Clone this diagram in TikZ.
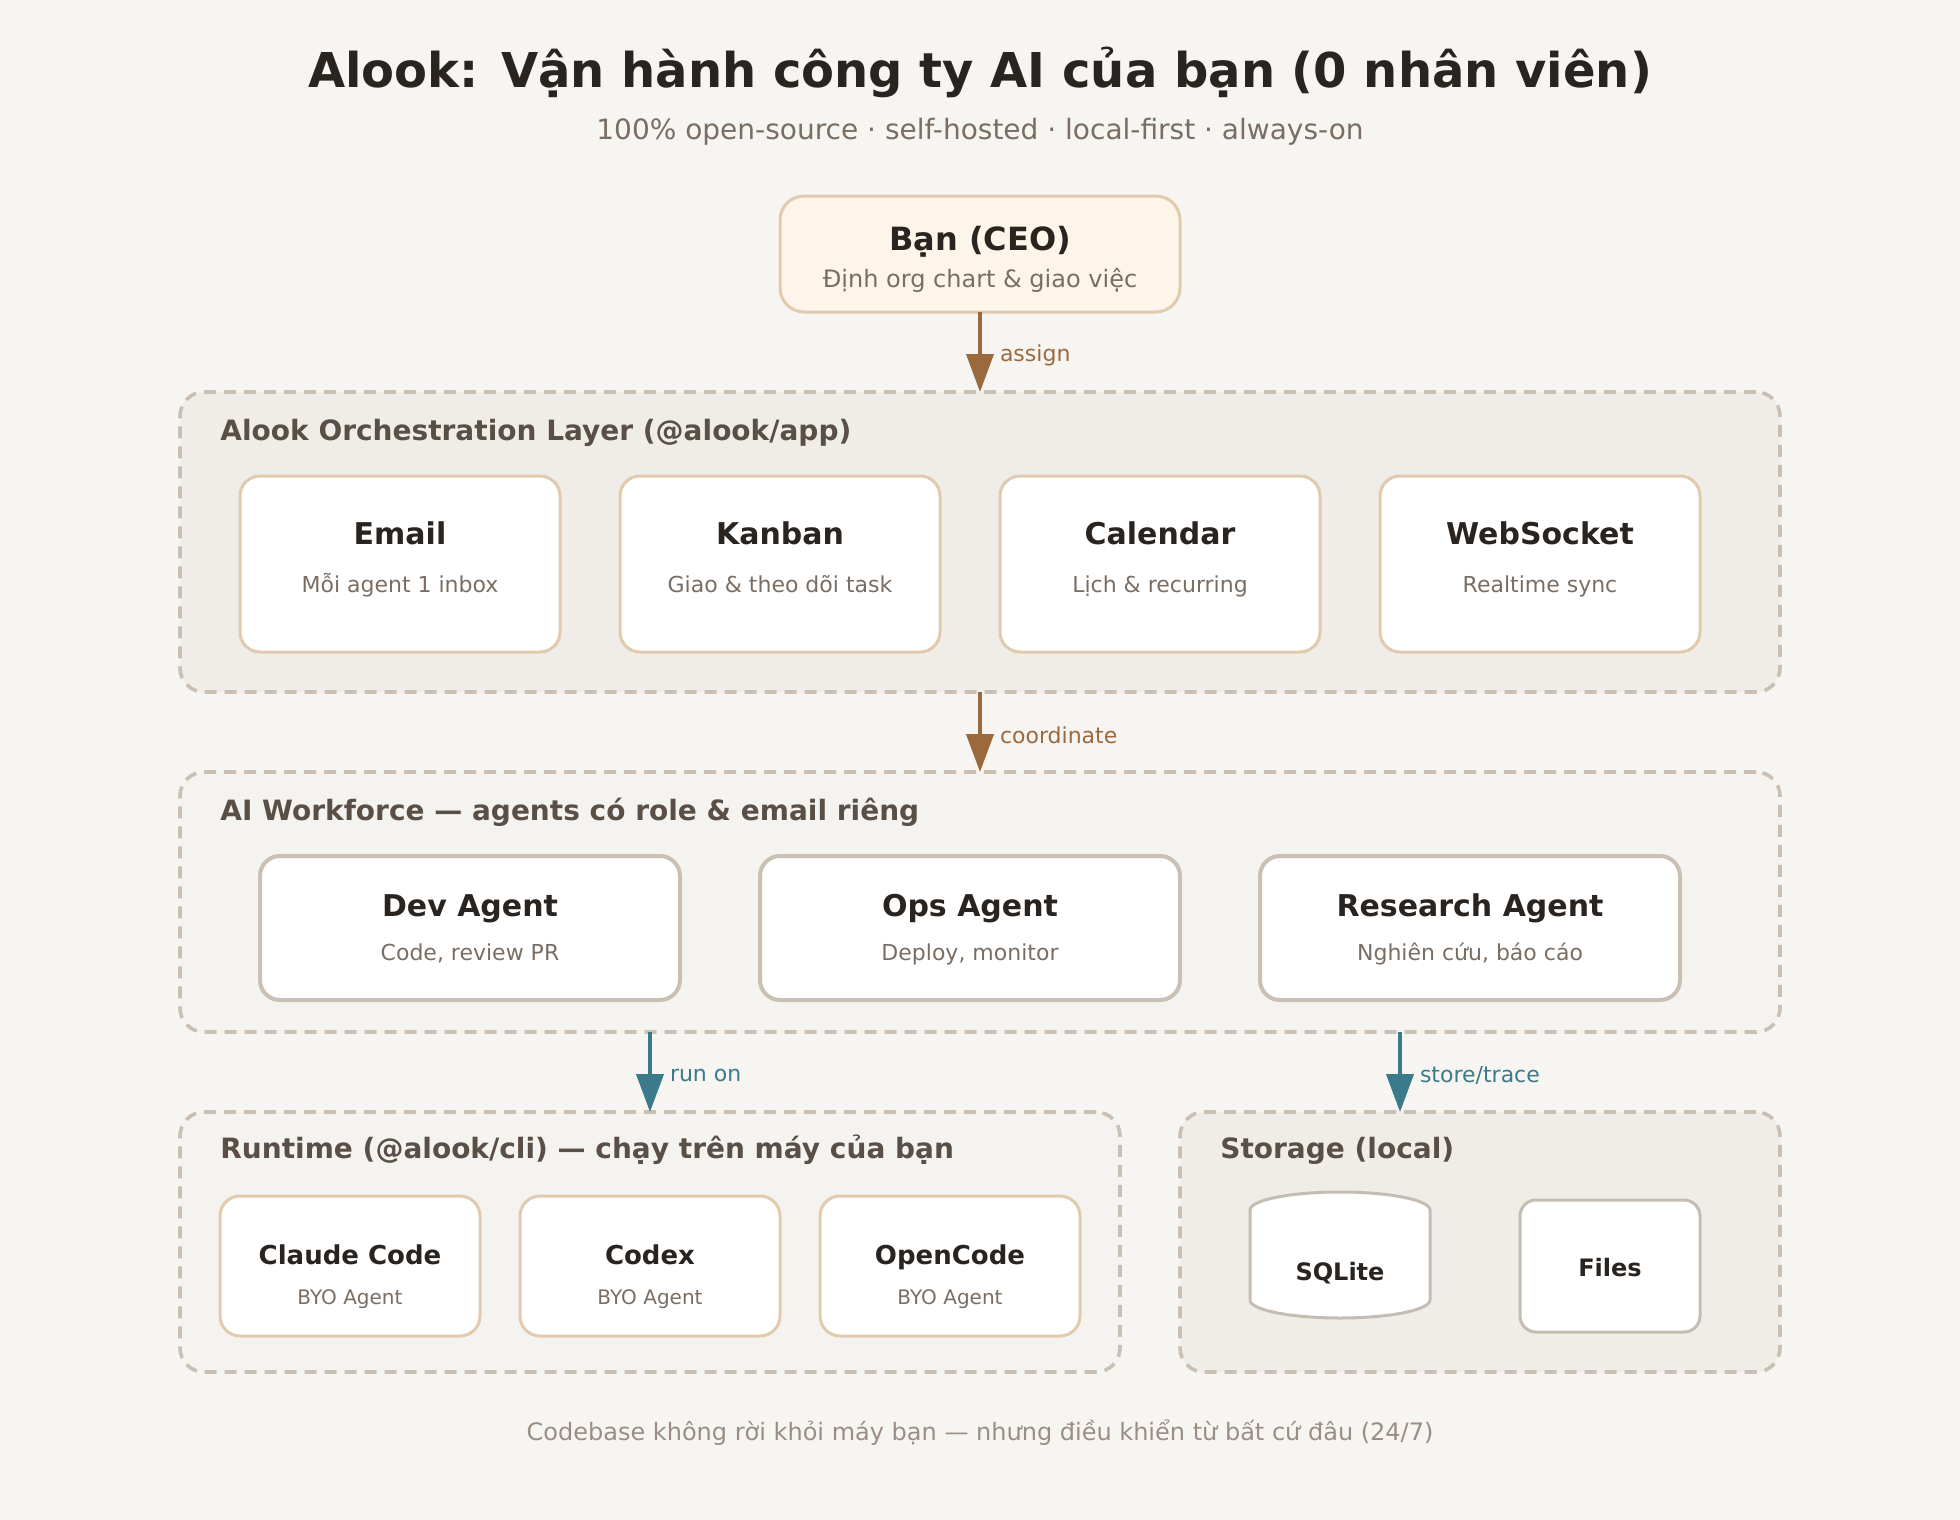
\documentclass[tikz,border=0pt]{standalone}
\usepackage{fontspec}
\setmainfont{DejaVu Sans}
\usepackage{xcolor}
\usetikzlibrary{arrows.meta, positioning}
\definecolor{pagebg}{HTML}{F7F5F1}
\definecolor{panelgrey}{HTML}{F0EDE8}
\definecolor{panellight}{HTML}{F5F3EF}
\definecolor{dashline}{HTML}{C9BFB3}
\definecolor{ceofill}{HTML}{FDF4EA}
\definecolor{tanline}{HTML}{E2CAAD}
\definecolor{storeline}{HTML}{C4BDB3}
\definecolor{ink}{HTML}{2A2420}
\definecolor{subink}{HTML}{7A6E64}
\definecolor{headink}{HTML}{5A4F47}
\definecolor{footink}{HTML}{9A8E84}
\definecolor{flowbrown}{HTML}{9A6A3E}
\definecolor{flowteal}{HTML}{3A7A8A}

\begin{document}
\begin{tikzpicture}[
        x=1pt, y=-1pt,
        layer/.style={rectangle, draw=dashline, line width=1.8pt, dash pattern=on 6pt off 4pt, rounded corners=12pt, inner sep=0pt, outer sep=0pt, anchor=north west},
        layerhead/.style={anchor=base west, inner sep=0pt, font=\fontsize{14}{16}\selectfont\bfseries, text=headink},
        card/.style={rectangle, draw=tanline, fill=white, line width=1.5pt, rounded corners=10pt, minimum width=160pt, minimum height=88pt, inner sep=0pt, outer sep=0pt},
        agentcard/.style={card, draw=dashline, line width=2pt, minimum width=210pt, minimum height=72pt},
        toolcard/.style={card, minimum width=130pt, minimum height=70pt},
        cardhead/.style={anchor=base, inner sep=0pt, font=\fontsize{15}{18}\selectfont\bfseries, text=ink},
        cardsub/.style={anchor=base, inner sep=0pt, font=\fontsize{11}{13}\selectfont, text=subink},
        flow/.style={-{Triangle[length=19pt, width=13.5pt]}, line width=2pt, draw=flowbrown},
        flowtag/.style={inner sep=0pt, yshift=-1.5pt, font=\fontsize{11}{13}\selectfont, text=flowbrown}
    ]
    \fill[pagebg] (0,0) rectangle (980,760);
    \useasboundingbox (0,0) rectangle (980,760);

    % heading
    \node[anchor=base, inner sep=0pt, font=\fontsize{24}{28}\selectfont\bfseries, text=ink] (title) at (490,44) {Alook: Vận hành công ty AI của bạn (0 nhân viên)};
    \node[anchor=base, inner sep=0pt, font=\fontsize{14}{16}\selectfont, text=subink] (subtitle) at (490,70) {100\% open-source · self-hosted · local-first · always-on};

    % the CEO
    \node[card, fill=ceofill, rounded corners=12pt, minimum width=200pt, minimum height=58pt] (ceo) at (490,127) {};
    \node[cardhead, font=\fontsize{16}{19}\selectfont\bfseries] (ceo-head) at (490,125) {Bạn (CEO)};
    \node[cardsub, font=\fontsize{12}{14}\selectfont] (ceo-sub) at (490,143.5) {Định org chart \& giao việc};

    % orchestration layer
    \node[layer, fill=panelgrey, minimum width=800pt, minimum height=150pt] (orch) at (90,196) {};
    \node[layerhead] (orch-head) at (110,220) {Alook Orchestration Layer (@alook/app)};
    \foreach \name/\head/\sub [count=\i from 0] in {email/Email/Mỗi agent 1 inbox, kanban/Kanban/Giao \& theo dõi task, calendar/Calendar/Lịch \& recurring, websocket/WebSocket/Realtime sync} {
        \node[card] (\name) at (200+190*\i,282) {};
        \node[cardhead] (\name-head) at (200+190*\i,272) {\head};
        \node[cardsub] (\name-sub) at (200+190*\i,296) {\sub};
    }

    % workforce layer
    \node[layer, fill=panellight, minimum width=800pt, minimum height=130pt] (work) at (90,386) {};
    \node[layerhead] (work-head) at (110,410) {AI Workforce — agents có role \& email riêng};
    \foreach \name/\head/\sub [count=\i from 0] in {dev/Dev Agent/{Code, review PR}, ops/Ops Agent/{Deploy, monitor}, research/Research Agent/{Nghiên cứu, báo cáo}} {
        \node[agentcard] (\name) at (235+250*\i,464) {};
        \node[cardhead] (\name-head) at (235+250*\i,458) {\head};
        \node[cardsub] (\name-sub) at (235+250*\i,480) {\sub};
    }

    % runtime layer
    \node[layer, fill=panellight, minimum width=470pt, minimum height=130pt] (runtime) at (90,556) {};
    \node[layerhead] (runtime-head) at (110,579) {Runtime (@alook/cli) — chạy trên máy của bạn};
    \foreach \name/\head [count=\i from 0] in {claude/Claude Code, codex/Codex, opencode/OpenCode} {
        \node[toolcard] (\name) at (175+150*\i,633) {};
        \node[cardhead, font=\fontsize{13}{16}\selectfont\bfseries] (\name-head) at (175+150*\i,632) {\head};
        \node[cardsub, font=\fontsize{10}{12}\selectfont] (\name-sub) at (175+150*\i,652) {BYO Agent};
    }

    % storage layer
    \node[layer, fill=panelgrey, minimum width=300pt, minimum height=130pt] (storage) at (590,556) {};
    \node[layerhead] (storage-head) at (610,579) {Storage (local)};
    \draw[draw=storeline, fill=white, line width=1.5pt] (625,605) arc[start angle=180, end angle=360, x radius=45, y radius=9] -- (715,650) arc[start angle=0, end angle=180, x radius=45, y radius=9] -- cycle;
    \node[cardhead, font=\fontsize{12}{14}\selectfont\bfseries] (sqlite) at (670,640) {SQLite};
    \node[card, draw=storeline, rounded corners=8pt, minimum width=90pt, minimum height=66pt] (files) at (805,633) {};
    \node[cardhead, font=\fontsize{12}{14}\selectfont\bfseries] (files-head) at (805,638) {Files};

    % connectors
    \draw[flow] (ceo) -- node[flowtag, right=9pt] (assign-tag) {assign} (orch);
    \draw[flow] (orch) -- node[flowtag, right=9pt] (coord-tag) {coordinate} (work);
    \draw[flow, draw=flowteal] (work.south -| runtime.north) -- node[flowtag, text=flowteal, right=9pt] (run-tag) {run on} (runtime.north);
    \coordinate (store-in) at ([xshift=-40pt]storage.north);
    \draw[flow, draw=flowteal] (work.south -| store-in) -- node[flowtag, text=flowteal, right=9pt] (store-tag) {store/trace} (store-in);

    % footer
    \node[anchor=base, inner sep=0pt, font=\fontsize{12}{14}\selectfont, text=footink] (footer) at (490,720) {Codebase không rời khỏi máy bạn — nhưng điều khiển từ bất cứ đâu (24/7)};
\end{tikzpicture}
\end{document}
